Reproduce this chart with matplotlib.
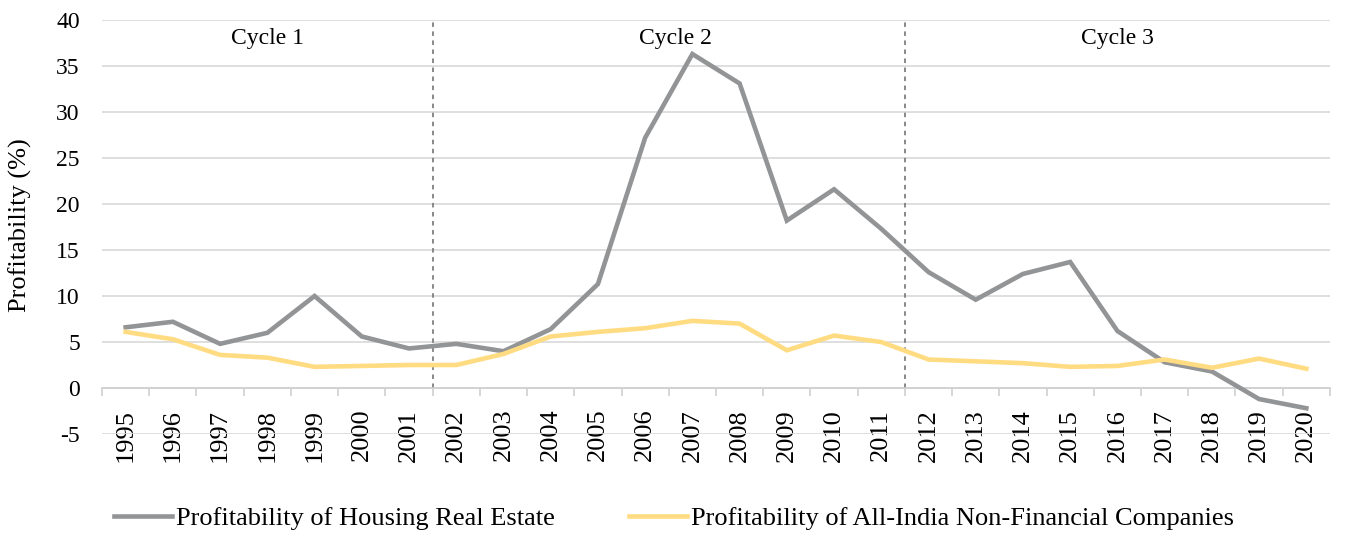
import numpy as np
import matplotlib.pyplot as plt
from matplotlib.ticker import FixedLocator

years = [str(y) for y in range(1995, 2021)]
housing = [6.6, 7.2, 4.8, 6.0, 10.0, 5.6, 4.3, 4.8, 4.0, 6.4, 11.3, 27.2, 36.3, 33.1,
           18.2, 21.6, 17.3, 12.6, 9.6, 12.4, 13.7, 6.2, 2.8, 1.8, -1.2, -2.2]
nonfin = [6.1, 5.3, 3.6, 3.3, 2.3, 2.4, 2.5, 2.5, 3.7, 5.6, 6.1, 6.5, 7.3, 7.0,
          4.1, 5.7, 5.0, 3.1, 2.9, 2.7, 2.3, 2.4, 3.1, 2.2, 3.2, 2.1]
cycles = ['Cycle 1', 'Cycle 2', 'Cycle 3']
cycle_breaks = [6.5, 16.5]

plt.rcParams['font.family'] = ['Liberation Serif', 'DejaVu Serif']
plt.rcParams['axes.unicode_minus'] = False

fig = plt.figure(figsize=(13.48, 5.33), dpi=100)
ax = fig.add_axes([0.0757, 0.1857, 0.9109, 0.7768])

x = np.arange(len(years))
l1, = ax.plot(x, housing, color='#939496', lw=3.3, solid_joinstyle='miter',
              label='Profitability of Housing Real Estate', zorder=3)
l2, = ax.plot(x, nonfin, color='#ffdc82', lw=3.3, solid_joinstyle='miter',
              label='Profitability of All-India Non-Financial Companies', zorder=3)

# dashed separators between the cycles
for b in cycle_breaks:
    ax.plot([b, b], [0, 40], color='#7f7f7f', lw=1.3, ls=(0, (2.5, 2.5)), zorder=2)

cyc_x = [3, 11.65, 21.0]
for cx, name in zip(cyc_x, cycles):
    ax.text(cx, 38.0, name, ha='center', va='center', fontsize=17)

ax.set_xlim(-0.5, len(years) - 0.5)
ax.set_ylim(-5, 40)
ax.set_yticks(np.arange(-5, 41, 5))
ax.yaxis.grid(True, color='#d9d9d9', lw=1.2)
ax.set_axisbelow(True)

for s in ['left', 'right', 'top']:
    ax.spines[s].set_visible(False)
ax.spines['bottom'].set_position(('data', 0))
ax.spines['bottom'].set_color('#d0d0d0')
ax.spines['bottom'].set_linewidth(1.2)

ax.set_xticks(x)
ax.set_xticklabels(years, rotation=90, fontsize=19, va='top')
ax.xaxis.set_minor_locator(FixedLocator(np.arange(-0.5, len(years), 1)))
ax.tick_params(axis='x', which='major', length=0, pad=15)
ax.tick_params(axis='x', which='minor', length=5.5, width=1.2, color='#d0d0d0', direction='out')
ax.tick_params(axis='y', length=0, pad=16, labelsize=17)

ax.set_ylabel('Profitability (%)', fontsize=19)
ax.yaxis.set_label_coords(-0.057, 0.505)

fig.legend(handles=[l1, l2], loc='center', bbox_to_anchor=(0.5, 0.028), ncol=2,
           frameon=False, fontsize=19, handlelength=2.2, handletextpad=0.15,
           columnspacing=2.8)

fig.savefig('out.png', dpi=100)
